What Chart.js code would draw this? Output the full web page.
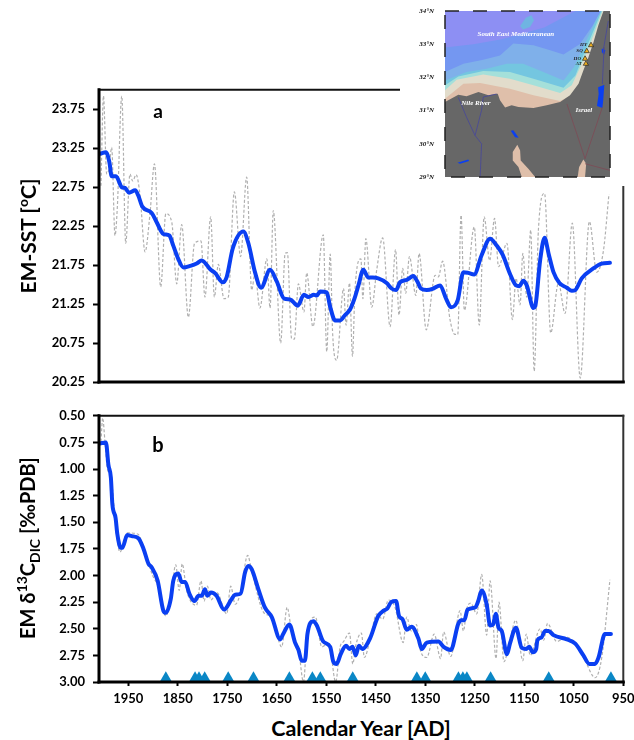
<!DOCTYPE html>
<html>
<head>
<meta charset="utf-8">
<title>EM-SST and EM d13C</title>
<script src="https://cdn.jsdelivr.net/npm/chart.js@4"></script>
<style>
  html, body { margin: 0; padding: 0; background: #fff; }
  body { width: 634px; height: 740px; position: relative; overflow: hidden; font-family: Lato, sans-serif; font-weight: bold; color: #000; }
  canvas { position: absolute; }
  .txt { position: absolute; white-space: nowrap; transform: translate(-50%, -50%); }
  .ytitle { font-size: 21px; transform: translate(-50%, -50%) rotate(-90deg); }
  .ytitle sub, .ytitle sup { font-size: 14px; line-height: 0; }
</style>
</head>
<body>
<canvas id="chart-sst" width="660" height="336" style="left:0;top:74px"></canvas>
<canvas id="chart-dic" width="660" height="310" style="left:0;top:400px"></canvas>
<canvas id="chart-map" width="234" height="186" style="left:400px;top:0;background:#fff"></canvas>
<div class="txt" style="left:158px;top:110px;font-size:19px">a</div>
<div class="txt" style="left:158px;top:444px;font-size:20px">b</div>
<div class="txt ytitle" style="left:27px;top:236px">EM-SST [<sup>o</sup>C]</div>
<div class="txt ytitle" style="left:27px;top:548px;font-size:20px">EM &#948;<sup>13</sup>C<sub>DIC</sub> [&#8240;PDB]</div>
<div class="txt" style="left:361px;top:728px;font-size:21.5px">Calendar Year [AD]</div>
<script>
// ticks
var yearTicks = [1950, 1850, 1750, 1650, 1550, 1450, 1350, 1250, 1150, 1050, 950];
var sstTicks = [20.25, 20.75, 21.25, 21.75, 22.25, 22.75, 23.25, 23.75];
var dicTicks = [0.5, 0.75, 1, 1.25, 1.5, 1.75, 2, 2.25, 2.5, 2.75, 3];

// panel a, smoothed line
var sstSmoothYears = [2007, 1995, 1988, 1983.4, 1974.7, 1963, 1956.5, 1948.4, 1936, 1929.5, 1921.5, 1902.6, 1892.5, 1879, 1867, 1859, 1849, 1838.6, 1825, 1811.7, 1801.6, 1783.4, 1774.7, 1759, 1751, 1739, 1717.4, 1707.3, 1694, 1681.7, 1663.5, 1650, 1635, 1623, 1607.6, 1595, 1586, 1575, 1569, 1562.5, 1549, 1542.3, 1532, 1522, 1512, 1502, 1493, 1485, 1475, 1465, 1456, 1445, 1428, 1418, 1409, 1401, 1387.5, 1374, 1366, 1359, 1347, 1333.6, 1320, 1308, 1298, 1284.4, 1273, 1263, 1251.4, 1236, 1219, 1205.6, 1193.5, 1179, 1166.6, 1160, 1152, 1145, 1131.5, 1128, 1118, 1109, 1101, 1091, 1079, 1064, 1054, 1047, 1034, 1010, 993.5, 977];
var sstSmooth = [23.18, 23.2, 23.07, 22.89, 22.89, 22.75, 22.74, 22.68, 22.71, 22.64, 22.5, 22.42, 22.3, 22.15, 22.13, 22, 21.83, 21.72, 21.74, 21.77, 21.81, 21.69, 21.65, 21.53, 21.6, 21.96, 22.18, 22.03, 21.66, 21.46, 21.69, 21.54, 21.32, 21.31, 21.23, 21.37, 21.34, 21.37, 21.36, 21.41, 21.4, 21.22, 21.04, 21.04, 21.11, 21.18, 21.32, 21.49, 21.69, 21.59, 21.59, 21.58, 21.52, 21.45, 21.43, 21.53, 21.56, 21.61, 21.54, 21.45, 21.43, 21.45, 21.49, 21.32, 21.21, 21.3, 21.66, 21.65, 21.63, 21.88, 22.09, 22, 21.88, 21.64, 21.49, 21.48, 21.55, 21.49, 21.2, 21.22, 21.81, 22.1, 21.9, 21.66, 21.52, 21.46, 21.42, 21.43, 21.58, 21.71, 21.77, 21.78];

// panel a, dashed raw line
var sstRawYears = [2005, 2000, 1993.5, 1989, 1983.4, 1976.7, 1972, 1963, 1955, 1946.4, 1941, 1934, 1926, 1916, 1906, 1897, 1884.4, 1874, 1862, 1852, 1842, 1828.5, 1816, 1803, 1795, 1783.4, 1776, 1768, 1756.5, 1748, 1735.6, 1723, 1710.7, 1700.6, 1694, 1684, 1670, 1663.5, 1657, 1642, 1633, 1628.5, 1620, 1614.4, 1606.3, 1595, 1589.5, 1577, 1556, 1549, 1542, 1537, 1529, 1515, 1510, 1503, 1497, 1492, 1480, 1476, 1470, 1458, 1448, 1436, 1421, 1410, 1403, 1395.5, 1389.5, 1382, 1369, 1362.5, 1348, 1330, 1323.5, 1315, 1300, 1290, 1284.4, 1277.7, 1271, 1251, 1241, 1231, 1220, 1210, 1202, 1185, 1174, 1166.6, 1158.5, 1153, 1145, 1137, 1130, 1121.5, 1109, 1096.6, 1081, 1067.6, 1053, 1037, 1018.5, 1003.6, 990, 979];
var sstRaw = [22.77, 23.92, 22.92, 22.98, 23.26, 22.13, 22.49, 23.92, 22.03, 22.92, 22.83, 22.91, 22.64, 21.92, 22.41, 23.05, 21.47, 22.41, 22.3, 21.51, 22.27, 21.08, 22.03, 22.06, 21.34, 22.37, 21.34, 21.76, 21.32, 21.34, 22.69, 21.86, 22.88, 21.43, 21.64, 21.2, 21.83, 21.2, 22.45, 20.75, 21.9, 21.91, 20.81, 20.8, 21.51, 21.15, 21.65, 20.96, 22.14, 20.64, 21.89, 20.86, 20.53, 21.45, 20.98, 21.52, 20.58, 21.43, 21.83, 21.32, 22.09, 21.21, 21.69, 22.1, 20.96, 21.95, 21.11, 21.71, 21.39, 21.86, 21.36, 21.9, 20.92, 21.62, 21.6, 21.8, 21.05, 20.86, 20.86, 22.39, 21.17, 22.24, 20.98, 22.37, 21.81, 22.35, 21.73, 22.03, 21.05, 21.58, 21.24, 21.9, 21.34, 22.2, 20.39, 22.2, 22.67, 20.88, 21.52, 21.13, 22.29, 20.3, 22.31, 21.66, 21.94, 22.66];

// panel b, smoothed line
var dicSmoothYears = [2007, 1995, 1990, 1985, 1982, 1975.5, 1972, 1965, 1962, 1952, 1943, 1929.5, 1919, 1909, 1903, 1890.5, 1879, 1874, 1864, 1859, 1849, 1842, 1835, 1826.5, 1816, 1808, 1801.6, 1795, 1790, 1783, 1771.6, 1756.5, 1741, 1734, 1723, 1714, 1707.3, 1700.6, 1687, 1674, 1660, 1643, 1637, 1624.5, 1613, 1606, 1599.6, 1593, 1588, 1576, 1569, 1556, 1542, 1535.6, 1529, 1521, 1510, 1503, 1497, 1490.5, 1484, 1477, 1461.5, 1445, 1434, 1426.5, 1419, 1409, 1403, 1396, 1387.5, 1377.5, 1364, 1357, 1347, 1323.5, 1313, 1298.6, 1283, 1276.5, 1271, 1264.6, 1249.4, 1243, 1236, 1226, 1219, 1213, 1207.6, 1202, 1195.6, 1185, 1179, 1167, 1155, 1146, 1140, 1133, 1126, 1123.6, 1115, 1108, 1101, 1091, 1064, 1047, 1030.6, 1018.5, 1007, 1000, 987, 975];
var dicSmooth = [0.76, 0.75, 0.96, 1.08, 1.33, 1.46, 1.61, 1.74, 1.74, 1.62, 1.63, 1.65, 1.75, 1.89, 1.92, 2.05, 2.33, 2.35, 2.22, 2.05, 1.98, 2.06, 2.06, 2.17, 2.24, 2.19, 2.19, 2.13, 2.19, 2.16, 2.19, 2.32, 2.22, 2.18, 2.17, 1.97, 1.91, 1.94, 2.13, 2.3, 2.39, 2.6, 2.55, 2.46, 2.63, 2.7, 2.8, 2.8, 2.55, 2.43, 2.47, 2.62, 2.67, 2.81, 2.83, 2.74, 2.66, 2.69, 2.67, 2.75, 2.66, 2.69, 2.59, 2.38, 2.33, 2.31, 2.25, 2.24, 2.38, 2.41, 2.51, 2.48, 2.59, 2.69, 2.63, 2.62, 2.67, 2.7, 2.45, 2.42, 2.42, 2.32, 2.3, 2.24, 2.14, 2.27, 2.47, 2.46, 2.36, 2.49, 2.52, 2.74, 2.64, 2.49, 2.68, 2.69, 2.67, 2.72, 2.69, 2.61, 2.58, 2.52, 2.52, 2.56, 2.6, 2.64, 2.75, 2.83, 2.83, 2.77, 2.55, 2.55];

// panel b, dashed raw line
var dicRawYears = [2005, 2001.6, 1997, 1992, 1985, 1976, 1966.9, 1952, 1931, 1913, 1900.6, 1889, 1874, 1864, 1854, 1847, 1841, 1832, 1812, 1803, 1796.6, 1790, 1783, 1771, 1751, 1743, 1734, 1723, 1708.7, 1700.6, 1674, 1660, 1640, 1629, 1620, 1606, 1596, 1588, 1572, 1559, 1549, 1542, 1531, 1522, 1515, 1503, 1496.5, 1490, 1479, 1473, 1461.5, 1448, 1436, 1424.6, 1411, 1394.6, 1387.5, 1378.7, 1368, 1360, 1347, 1332, 1319, 1313, 1298.6, 1279.7, 1273, 1266, 1258, 1246, 1236, 1226, 1219, 1207, 1201, 1191, 1179, 1167, 1153, 1146, 1138, 1118, 1111, 1103, 1084.6, 1064, 1047, 1027, 1007, 993.5, 977];
var dicRaw = [0.74, 0.52, 0.74, 1, 1.07, 1.49, 1.78, 1.6, 1.61, 1.83, 2, 2.11, 2.38, 2.21, 1.9, 2.14, 1.89, 2.14, 2.28, 2.05, 2.24, 2.1, 2.23, 2.16, 2.36, 2.1, 2.27, 2.16, 1.81, 1.96, 2.36, 2.38, 2.67, 2.3, 2.52, 2.69, 3, 2.52, 2.39, 2.67, 2.65, 2.69, 3, 2.67, 2.62, 2.54, 2.83, 2.65, 2.54, 2.77, 2.6, 2.36, 2.41, 2.23, 2.3, 2.63, 2.39, 2.52, 2.46, 2.7, 2.77, 2.55, 2.78, 2.53, 2.76, 2.33, 2.52, 2.31, 2.26, 2.36, 1.99, 2.56, 2.05, 2.78, 2.25, 2.81, 2.6, 2.42, 2.8, 2.55, 2.75, 2.5, 2.61, 2.45, 2.62, 2.58, 2.64, 2.8, 2.96, 2.77, 2.04];

// blue triangles along the bottom of panel b
var triangleYears = [1874, 1815, 1807, 1795.5, 1748, 1697, 1624.5, 1578, 1562, 1496.5, 1367, 1350, 1283, 1274, 1266, 1218, 1100.6, 975];
var triangleLevel = 2.96;

// map, everything in lon/lat
var seaRect = [[30, 34], [35.82, 34], [35.82, 29], [30, 29]];
var seaBand1 = [[30, 32.9], [31, 33], [32, 33.15], [33.5, 33.5], [34.6, 34]];
var seaBand2 = [[30, 32.16], [30.65, 32.41], [31.35, 32.53], [31.94, 32.66], [32.41, 33.02], [33.12, 32.97], [33.71, 32.82], [34.18, 32.69], [34.75, 33], [35.2, 33.55], [35.5, 34]];
var seaBand3 = [[30, 31.91], [30.76, 32.16], [31.47, 32.26], [32.18, 32.41], [32.76, 32.41], [33.47, 32.16], [34.18, 31.91], [34.55, 32.31], [34.92, 33], [35.38, 33.82], [35.5, 34]];
var seaBand4 = [[30, 31.76], [30.47, 32.03], [31.35, 32.19], [32.29, 32.16], [33.12, 31.96], [34.18, 31.69], [34.6, 32.06], [34.95, 32.82], [35.32, 33.57], [35.52, 34]];
var seaBand5 = [[30, 31.61], [30.41, 31.93], [31.35, 32.09], [32.29, 31.96], [33.12, 31.76], [34.06, 31.53], [34.47, 31.76], [34.8, 32.36], [35.17, 33.12], [35.56, 34]];
var seaBand6 = [[30, 31.36], [30.65, 31.81], [31.24, 31.83], [32.29, 31.66], [33.12, 31.46], [34.06, 31.29], [34.41, 31.44], [34.41, 31], [30, 31]];
var seaBlob = [[32.65, 33.55], [32.85, 33.8], [33.05, 33.87], [33.14, 33.72], [33, 33.52], [32.75, 33.44]];
var land = [[30, 31.26], [30.47, 31.48], [30.76, 31.43], [31.18, 31.56], [31.53, 31.46], [31.86, 31.51], [31.94, 31.31], [32.12, 31.09], [32.35, 31.16], [32.59, 31.11], [33.12, 31.08], [33.59, 31.16], [34.06, 31.26], [34.41, 31.46], [34.71, 31.81], [34.88, 32.21], [35.06, 32.61], [35.24, 33.07], [35.41, 33.57], [35.59, 34], [35.82, 34], [35.82, 29], [30, 29]];
var sandWest = [[32.55, 29.97], [32.65, 29.8], [32.67, 29.5], [32.94, 29.25], [33.18, 29], [32.71, 29], [32.59, 29.3], [32.39, 29.5], [32.39, 29.75]];
var sandEast = [[34.88, 29.53], [34.98, 29.4], [34.94, 29], [34.68, 29], [34.73, 29.3]];
var deadSea = [[35.4, 31.7], [35.62, 31.78], [35.58, 31.3], [35.55, 31.08], [35.36, 31.14], [35.42, 31.5]];
var galilee = [[35.53, 32.87], [35.66, 32.82], [35.61, 32.69], [35.53, 32.76]];
var bitterLake = [[32.32, 30.39], [32.41, 30.41], [32.6, 30.18], [32.47, 30.2]];
var qarunLake = [[30.44, 29.43], [30.82, 29.53], [30.85, 29.48], [30.53, 29.4]];
var nileWest = [[31.24, 29], [31.29, 30], [31.06, 30.25], [30.76, 30.8], [30.47, 31.4]];
var nileEast = [[31.06, 30.25], [31.29, 31.01], [31.35, 31.41], [31.82, 31.5]];
var jordan = [[35.76, 33.7], [35.6, 32.9], [35.6, 32.7], [35.55, 31.8]];
var borderIsrael = [[34.3, 31.2], [34.94, 29.55], [35.55, 31.1]];
var borderEast = [[34.94, 29.4], [35.82, 29.2]];
var siteLon = [35.15, 35, 34.94, 34.97];
var siteLat = [32.97, 32.79, 32.56, 32.41];
var siteNames = ["HY", "SQ", "HO", "AT"];
var lonTicks = [30, 31, 32, 33, 34, 35];
var latTicks = [29, 30, 31, 32, 33, 34];
var placeNames = ["South East Mediterranean", "Nile River", "Israel"];
var placeLon = [32.5, 31.09, 34.9];
var placeLat = [33.29, 31.22, 31];

var toXY = function (xs, ys) {
  return xs.map(function (x, i) {
    return { x: x, y: ys[i] };
  });
};
var toMapXY = function (pairs) {
  return pairs.map(function (p) {
    return { x: p[0], y: p[1] };
  });
};

// black box around the plot area, widths differ per side
const framePlugin = {
  id: "frame",
  afterDatasetsDraw(chart, args, opts) {
    const a = chart.chartArea;
    const ctx = chart.ctx;
    ctx.save();
    ctx.lineCap = "square";
    const side = function (x1, y1, x2, y2, w, c) {
      ctx.lineWidth = w;
      ctx.strokeStyle = c;
      ctx.beginPath();
      ctx.moveTo(x1, y1);
      ctx.lineTo(x2, y2);
      ctx.stroke();
    };
    side(a.left, a.top, a.right, a.top, opts.top, "#111");
    side(a.right, a.top, a.right, a.bottom, opts.right, "#333");
    side(a.left, a.bottom, a.right, a.bottom, opts.bottom, "#000");
    side(a.left, a.top, a.left, a.bottom, opts.left, "#000");
    ctx.restore();
  },
};

const tickFont = { family: "Lato", weight: "bold", size: 13 };

function panelOptions(yMin, yMax, yTicks, yReverse, showYears, pad) {
  return {
    responsive: false,
    animation: false,
    events: [],
    layout: { padding: pad, autoPadding: false },
    plugins: {
      legend: { display: false },
      tooltip: { enabled: false },
      frame: { top: 2, right: 2, bottom: 3, left: 3 },
    },
    scales: {
      x: {
        type: "linear",
        reverse: true,
        min: 950,
        max: 2009,
        afterBuildTicks: function (scale) {
          scale.ticks = yearTicks.map(function (v) {
            return { value: v };
          });
        },
        afterFit: function (scale) {
          scale.height = 28;
        },
        border: { display: false },
        grid: { drawOnChartArea: false, drawTicks: showYears, tickLength: 4, tickWidth: 2, tickColor: "#000" },
        ticks: {
          display: showYears,
          font: tickFont,
          color: "#000",
          padding: 5,
          maxRotation: 0,
          autoSkip: false,
          callback: function (v) {
            return String(v);
          },
        },
      },
      y: {
        type: "linear",
        reverse: yReverse,
        min: yMin,
        max: yMax,
        afterBuildTicks: function (scale) {
          scale.ticks = yTicks.map(function (v) {
            return { value: v };
          });
        },
        afterFit: function (scale) {
          scale.width = 99;
        },
        border: { display: false },
        grid: { drawOnChartArea: false, tickLength: 6, tickWidth: 2, tickColor: "#000" },
        ticks: {
          font: tickFont,
          color: "#000",
          padding: 8,
          autoSkip: false,
          callback: function (v) {
            return v.toFixed(2);
          },
        },
      },
    },
  };
}

function smoothLine(data) {
  return { data: data, borderColor: "#0a3ff2", borderWidth: 4, pointRadius: 0, cubicInterpolationMode: "monotone", borderCapStyle: "round", borderJoinStyle: "round" };
}
function rawLine(data) {
  return { data: data, borderColor: "#b0b0b0", borderWidth: 1.2, borderDash: [3, 2], pointRadius: 0, cubicInterpolationMode: "monotone" };
}

new Chart(document.getElementById("chart-sst"), {
  type: "line",
  data: {
    datasets: [smoothLine(toXY(sstSmoothYears, sstSmooth)), rawLine(toXY(sstRawYears, sstRaw))],
  },
  options: panelOptions(20.25, 24, sstTicks, false, false, { top: 14.5, right: 36.7, bottom: 0, left: 0 }),
  plugins: [framePlugin],
});

new Chart(document.getElementById("chart-dic"), {
  type: "line",
  data: {
    datasets: [
      smoothLine(toXY(dicSmoothYears, dicSmooth)),
      rawLine(toXY(dicRawYears, dicRaw)),
      {
        data: triangleYears.map(function (yr) {
          return { x: yr, y: triangleLevel };
        }),
        showLine: false,
        pointStyle: "triangle",
        pointRadius: 6.5,
        pointBackgroundColor: "#0a87c6",
        pointBorderColor: "#0a87c6",
        pointBorderWidth: 0,
      },
    ],
  },
  options: panelOptions(0.5, 3, dicTicks, true, true, { top: 14, right: 36.7, bottom: 0, left: 0 }),
  plugins: [framePlugin],
});

// inset map, polygons are drawn bottom to top
var shapes = [
  [seaRect, "#8d8ff3"],
  [seaBand1.concat([[35.82, 34], [35.82, 29], [30, 29]]), "#7497f1"],
  [seaBlob, "#6fb4e2"],
  [seaBand2.concat([[35.82, 34], [35.82, 29], [30, 29]]), "#7fb0ea"],
  [seaBand3.concat([[35.82, 34], [35.82, 29], [30, 29]]), "#74c6e0"],
  [seaBand4.concat([[35.82, 34], [35.82, 29], [30, 29]]), "#a4e0da"],
  [seaBand5.concat([[35.82, 34], [35.82, 29], [30, 29]]), "#e2dccb"],
  [seaBand6, "#dfbfaa"],
  [land, "#676767"],
  [sandWest, "#dfbfaa"],
  [sandEast, "#dfbfaa"],
  [deadSea, "#0a3ff2"],
  [galilee, "#0a3ff2"],
  [bitterLake, "#0a3ff2"],
  [qarunLake, "#0a3ff2"],
];
var mapLines = [
  [nileWest, "#46469c"],
  [nileEast, "#46469c"],
  [jordan, "#46469c"],
  [borderIsrael, "#7d4a55"],
  [borderEast, "#7d4a55"],
];

var mapDatasets = [];
shapes.forEach(function (s, i) {
  mapDatasets.push({ data: toMapXY(s[0]), fill: "shape", backgroundColor: s[1], borderWidth: 0, pointRadius: 0, tension: 0, order: 100 - i });
});
mapLines.forEach(function (l) {
  mapDatasets.push({ data: toMapXY(l[0]), fill: false, borderColor: l[1], borderWidth: 0.8, pointRadius: 0, tension: 0, order: 50 });
});
mapDatasets.push({
  data: toXY(siteLon, siteLat),
  showLine: false,
  pointStyle: "triangle",
  pointRadius: 3,
  pointBackgroundColor: "#f0b020",
  pointBorderColor: "#222",
  pointBorderWidth: 0.7,
  order: 1,
});

// names on the map, placed through the lon/lat scales
const mapLabelPlugin = {
  id: "mapLabels",
  afterDatasetsDraw(chart) {
    const ctx = chart.ctx;
    const xs = chart.scales.x;
    const ys = chart.scales.y;
    ctx.save();
    ctx.textAlign = "center";
    ctx.textBaseline = "middle";
    ctx.fillStyle = "#fff";
    ctx.font = "italic bold 7px 'Liberation Serif'";
    placeNames.forEach(function (n, i) {
      ctx.fillText(n, xs.getPixelForValue(placeLon[i]), ys.getPixelForValue(placeLat[i]));
    });
    ctx.fillStyle = "#222";
    ctx.font = "italic bold 5px 'Liberation Serif'";
    ctx.textAlign = "right";
    siteNames.forEach(function (n, i) {
      ctx.fillText(n, xs.getPixelForValue(siteLon[i]) - 4, ys.getPixelForValue(siteLat[i]));
    });
    // dashed neatline
    const a = chart.chartArea;
    ctx.strokeStyle = "#222";
    ctx.lineWidth = 1.5;
    ctx.setLineDash([14, 14]);
    ctx.strokeRect(a.left, a.top, a.right - a.left, a.bottom - a.top);
    ctx.restore();
  },
};

const mapFont = { family: "Liberation Serif", weight: "bold", style: "italic", size: 7 };

new Chart(document.getElementById("chart-map"), {
  type: "line",
  data: { datasets: mapDatasets },
  options: {
    responsive: false,
    animation: false,
    events: [],
    layout: { padding: { top: 11, right: 24, bottom: 0, left: 0 }, autoPadding: false },
    plugins: { legend: { display: false }, tooltip: { enabled: false } },
    scales: {
      x: {
        type: "linear",
        min: 30,
        max: 35.82,
        afterBuildTicks: function (scale) {
          scale.ticks = lonTicks.map(function (v) {
            return { value: v };
          });
        },
        afterFit: function (scale) {
          scale.height = 9;
        },
        border: { display: false },
        grid: { display: false },
        ticks: {
          font: mapFont,
          color: "#111",
          padding: 0,
          maxRotation: 0,
          autoSkip: false,
          callback: function (v) {
            return v + "\u00b0E";
          },
        },
      },
      y: {
        type: "linear",
        min: 29,
        max: 34,
        afterBuildTicks: function (scale) {
          scale.ticks = latTicks.map(function (v) {
            return { value: v };
          });
        },
        afterFit: function (scale) {
          scale.width = 45;
        },
        border: { display: false },
        grid: { display: false },
        ticks: {
          font: mapFont,
          color: "#111",
          padding: 3,
          autoSkip: false,
          callback: function (v) {
            return v + "\u00b0N";
          },
        },
      },
    },
  },
  plugins: [mapLabelPlugin],
});
</script>
</body>
</html>
